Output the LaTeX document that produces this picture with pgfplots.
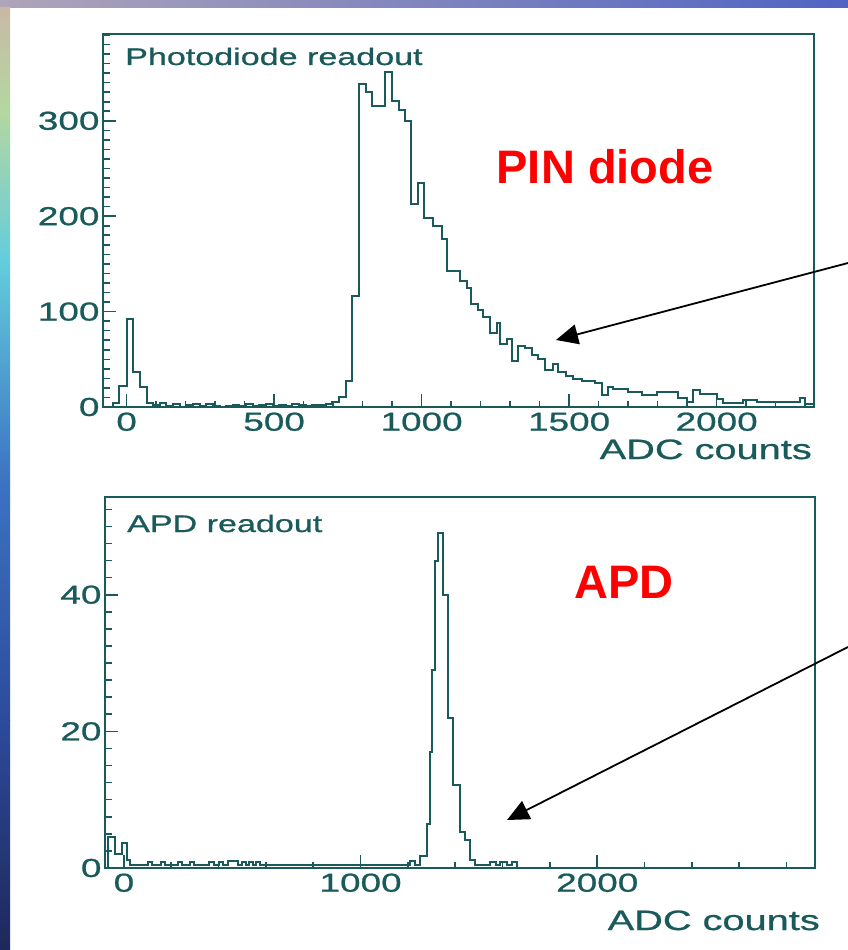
\documentclass[border=0pt]{standalone}
\usepackage{fontspec}
\setmainfont{Liberation Sans}
\newfontfamily\pawfont[FakeStretch=1.42,FakeBold=0.8]{Liberation Sans}
\usepackage{pgfplots}
\pgfplotsset{compat=1.18}
\usetikzlibrary{arrows.meta}
\definecolor{paw}{RGB}{25,90,90}
\definecolor{pinred}{RGB}{255,0,0}
\pgfplotsset{pawaxis/.style={
  scale only axis, anchor=north west,
  axis line style={draw=paw, line width=2pt},
  tick align=inside, xtick pos=left, ytick pos=left,
  major tick length=13pt, minor tick length=6.5pt,
  every tick/.style={draw=paw, line width=1.6pt},
  tick label style={font=\pawfont\fontsize{26}{26}\selectfont, text=paw},
  xticklabel style={yshift=-2pt},
  /pgf/number format/assume math mode=true,
  /pgf/number format/1000 sep={},
}}
\begin{document}
\begin{tikzpicture}
\useasboundingbox (0pt,0pt) rectangle (848pt,-950pt);
\fill[white] (0pt,0pt) rectangle (848pt,-950pt);
% decorative slide background strips
\shade[left color={rgb,255:red,175;green,165;blue,185}, right color={rgb,255:red,80;green,100;blue,195}] (0pt,0pt) rectangle (848pt,-8pt);
\shade[top color={rgb,255:red,200;green,185;blue,165}, bottom color={rgb,255:red,180;green,215;blue,160}] (0pt,-8pt) rectangle (10pt,-110pt);
\shade[top color={rgb,255:red,180;green,215;blue,160}, bottom color={rgb,255:red,100;green,205;blue,220}] (0pt,-110pt) rectangle (10pt,-260pt);
\shade[top color={rgb,255:red,100;green,205;blue,220}, bottom color={rgb,255:red,60;green,115;blue,195}] (0pt,-260pt) rectangle (10pt,-480pt);
\shade[top color={rgb,255:red,60;green,115;blue,195}, bottom color={rgb,255:red,45;green,75;blue,155}] (0pt,-480pt) rectangle (10pt,-720pt);
\shade[top color={rgb,255:red,45;green,75;blue,155}, bottom color={rgb,255:red,30;green,40;blue,90}] (0pt,-720pt) rectangle (10pt,-950pt);

% ---------- top panel ----------
\begin{axis}[pawaxis, at={(103pt,-34pt)}, width=711pt, height=373pt,
  xmin=-80, xmax=2330, ymin=0, ymax=391,
  xtick={0,500,1000,1500,2000}, minor xtick={100,200,...,2300},
  ytick={0,100,200,300}, minor ytick={10,20,...,390}]
\addplot[const plot mark left, draw=paw, line width=2pt, mark=none] coordinates {
(-80,0)(-45,4)(-25,22)(0,92)(22,37)(45,21)(68,4)(90,2)(112,4)(135,1)(158,3)(180,0)(202,2)(225,3)(248,1)(270,3)(292,1)(315,0)(338,1)(360,2)(382,1)(405,3)(428,1)(450,2)(472,3)(495,1)(518,2)(540,1)(562,3)(585,2)(608,1)(630,2)(652,2)(675,3)(697,5)(720,11)(742,27)(765,116)(787,339)(810,330)(832,316)(855,316)(877,351)(900,321)(922,311)(945,300)(963,213)(989,235)(1008,198)(1039,190)(1068,176)(1085,143)(1130,132)(1153,125)(1169,108)(1192,102)(1209,94)(1232,78)(1254,88)(1265,66)(1288,71)(1305,48)(1327,64)(1350,62)(1373,55)(1395,50)(1418,39)(1446,45)(1463,37)(1491,32)(1514,29)(1542,27)(1587,25)(1610,13)(1633,21)(1650,19)(1700,16)(1746,13)(1797,16)(1870,9)(1898,5)(1921,18)(1943,14)(2000,8)(2022,4)(2090,7)(2136,5)(2282,9)(2299,3)(2330,3)
};
\end{axis}

% ---------- bottom panel ----------
\begin{axis}[pawaxis, at={(105pt,-497pt)}, width=710pt, height=371pt,
  xmin=-80, xmax=2920, ymin=0, ymax=54.3,
  xtick={0,1000,2000}, minor xtick={200,400,...,2800},
  ytick={0,20,40}, minor ytick={2.5,5,...,52.5}]
\addplot[const plot mark left, draw=paw, line width=2pt, mark=none] coordinates {
(-80,0)(-66,4.6)(-38,2.1)(-10,3.6)(11,1.2)(25,0.4)(100,0.9)(120,0.4)(155,0.9)(175,0.4)(228,0.9)(245,0.4)(278,0.9)(295,0.4)(360,0.9)(380,0.4)(400,0.9)(420,0.4)(440,1)(480,0.4)(500,0.9)(515,0.4)(530,0.9)(545,0.4)(560,0.9)(575,0.4)(1209,1)(1230,0.4)(1252,1.7)(1280,6.5)(1294,17)(1301,29)(1315,45)(1329,49)(1350,40)(1371,22)(1392,12.2)(1421,5.3)(1442,4.1)(1463,1.2)(1484,0.4)(1548,0.9)(1570,0.4)(1590,0.9)(1620,0.4)(1640,0.9)(1660,0)(2920,0)
};
\end{axis}

% ---------- texts ----------
\node[anchor=base west, inner sep=0pt, font=\pawfont\fontsize{24}{24}\selectfont, text=paw] at (125pt,-65pt) {Photodiode readout};
\node[anchor=base west, inner sep=0pt, font=\pawfont\fontsize{24}{24}\selectfont, text=paw] at (127pt,-532pt) {APD readout};
\node[anchor=base east, inner sep=0pt, font=\pawfont\fontsize{28}{28}\selectfont, text=paw] at (812pt,-459pt) {ADC counts};
\node[anchor=base east, inner sep=0pt, font=\pawfont\fontsize{28}{28}\selectfont, text=paw] at (820pt,-930pt) {ADC counts};
\node[anchor=base, inner sep=0pt, font=\bfseries\fontsize{47}{47}\selectfont, text=pinred] at (605pt,-183pt) {PIN diode};
\node[anchor=base, inner sep=0pt, font=\bfseries\fontsize{47}{47}\selectfont, text=pinred] at (624pt,-598pt) {APD};

% ---------- arrows ----------
\draw[black, line width=1.8pt, -{Triangle[length=22pt,width=20pt]}] (848pt,-263pt) -- (556pt,-340pt);
\draw[black, line width=1.8pt, -{Triangle[length=22pt,width=20pt]}] (848pt,-647pt) -- (507pt,-820pt);
\end{tikzpicture}
\end{document}
